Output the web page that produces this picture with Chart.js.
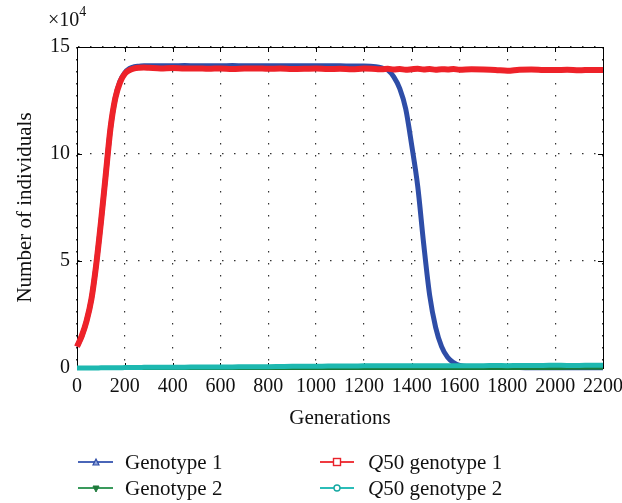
<!DOCTYPE html>
<html>
<head>
<meta charset="utf-8">
<script src="https://cdn.jsdelivr.net/npm/chart.js@4"></script>
<style>
  body { margin: 0; background: #fff; }
  #wrap { position: relative; width: 622px; height: 503px; font-family: "Liberation Serif", "DejaVu Serif", serif; color: #111; }
  #scale { position: absolute; left: 48px; top: 6px; font-size: 20px; }
  #scale sup { font-size: 14px; position: relative; top: -2px; }
  .leg { position: absolute; font-size: 21px; line-height: 24px; white-space: nowrap; }
  .leg svg { position: absolute; left: 0; top: 4px; }
  .leg span { position: absolute; top: 0; }
</style>
</head>
<body>
<div id="wrap">
  <canvas id="myChart" width="622" height="503"></canvas>
  <div id="scale">&times;10<sup>4</sup></div>
  <div class="leg" style="left:78px;top:450px">
    <svg width="36" height="16"><line x1="0" y1="8" x2="35" y2="8" stroke="#4a66b8" stroke-width="2"/><polygon points="15,11 21,11 18,5" fill="#8fa3d9" stroke="#2e4da7" stroke-width="1.2"/></svg>
    <span style="left:47px">Genotype 1</span>
  </div>
  <div class="leg" style="left:78px;top:476px">
    <svg width="36" height="16"><line x1="0" y1="8" x2="35" y2="8" stroke="#3a9a5c" stroke-width="2"/><polygon points="15,6 21,6 18,12" fill="#1f7a3c" stroke="#1f7a3c" stroke-width="1"/></svg>
    <span style="left:47px">Genotype 2</span>
  </div>
  <div class="leg" style="left:320px;top:450px">
    <svg width="36" height="16"><line x1="0" y1="8" x2="34" y2="8" stroke="#ef3a40" stroke-width="2"/><rect x="13.5" y="4.5" width="7" height="7" fill="#fff" stroke="#e8222a" stroke-width="1.4"/></svg>
    <span style="left:48px"><i>Q</i>50 genotype 1</span>
  </div>
  <div class="leg" style="left:320px;top:476px">
    <svg width="36" height="16"><line x1="0" y1="8" x2="34" y2="8" stroke="#2bbdb8" stroke-width="2"/><circle cx="17" cy="8" r="3" fill="#fff" stroke="#17a8a2" stroke-width="1.4"/></svg>
    <span style="left:48px"><i>Q</i>50 genotype 2</span>
  </div>
</div>
<script>
const xTicks = [0, 200, 400, 600, 800, 1000, 1200, 1400, 1600, 1800, 2000, 2200];
const yTicks = [0, 5, 10, 15];

const generations = [
  0, 20, 40, 60, 80, 100, 120, 140, 160, 180, 200, 220, 240, 260, 280, 300,
  350, 400, 450, 500, 550, 600, 650, 700, 750, 800, 850, 900, 950, 1000, 1050, 1100, 1150, 1200, 1250,
  1275, 1300, 1325, 1350, 1375, 1400, 1425, 1450, 1475, 1500, 1525, 1550, 1575, 1600,
  1650, 1700, 1750, 1800, 1850, 1900, 1950, 2000, 2050, 2100, 2150, 2200
];

// values in units of 10^4 individuals
const genotype1 = [
  1.0, 1.5, 2.2, 3.2, 4.8, 6.8, 9.0, 11.2, 12.6, 13.4, 13.8, 14.0, 14.08, 14.1, 14.12, 14.12,
  14.12, 14.12, 14.13, 14.12, 14.12, 14.12, 14.13, 14.12, 14.12, 14.12, 14.12, 14.12, 14.12, 14.12, 14.12, 14.12, 14.11, 14.11, 14.08,
  14.02, 13.92, 13.6, 13.05, 12.1, 10.4, 8.5, 5.8, 3.4, 1.9, 1.0, 0.5, 0.25, 0.12,
  0.05, 0.03, 0.02, 0.02, 0.02, 0.01, 0.01, 0.01, 0.01, 0.01, 0.01, 0.01
];

const genotype2 = [
  0, 0, 0, 0, 0, 0, 0, 0, 0, 0, 0, 0, 0, 0, 0, 0,
  0, 0, 0, 0, 0, 0, 0, 0, 0, 0, 0, 0, 0, 0, 0, 0, 0, 0, 0,
  0, 0, 0, 0, 0, 0, 0, 0, 0, 0, 0, 0, 0, 0,
  0, 0, 0, 0, 0, 0, 0, 0, 0.01, 0.01, 0.01, 0.01
];

const q50Genotype1 = [
  1.0, 1.5, 2.2, 3.2, 4.8, 6.8, 9.0, 11.2, 12.6, 13.35, 13.75, 13.92, 14.0, 14.03, 14.04, 14.03,
  14.0, 14.02, 13.99, 14.0, 13.98, 14.0, 13.97, 13.99, 14.0, 13.98, 13.99, 13.97, 13.98, 14.0, 13.97, 13.98, 13.96, 13.99, 13.97,
  13.96, 13.98, 13.95, 13.97, 13.94, 13.96, 13.98, 13.95, 13.97, 13.94, 13.96, 13.95, 13.97, 13.94,
  13.96, 13.95, 13.93, 13.89, 13.94, 13.95, 13.93, 13.92, 13.94, 13.91, 13.93, 13.92
];

const q50Genotype2 = [
  0, 0, 0, 0, 0, 0.01, 0.01, 0.01, 0.01, 0.01, 0.02, 0.02, 0.02, 0.02, 0.03, 0.03,
  0.04, 0.04, 0.04, 0.05, 0.05, 0.05, 0.05, 0.06, 0.06, 0.06, 0.07, 0.08, 0.08, 0.08, 0.09, 0.09, 0.09, 0.1, 0.1,
  0.1, 0.1, 0.1, 0.1, 0.11, 0.1, 0.1, 0.11, 0.11, 0.1, 0.11, 0.11, 0.11, 0.11,
  0.11, 0.11, 0.12, 0.11, 0.12, 0.12, 0.12, 0.13, 0.12, 0.12, 0.13, 0.13
];

const pts = vals => generations.map((g, i) => ({ x: g, y: vals[i] }));

const frame = {
  id: 'frame',
  beforeDatasetsDraw(chart) {
    const { ctx, chartArea: a, scales: { x, y } } = chart;
    ctx.save();
    ctx.strokeStyle = '#000';
    ctx.lineWidth = 1;
    ctx.strokeRect(Math.round(a.left) + 0.5, Math.round(a.top) + 0.5, Math.round(a.width), Math.round(a.height));
    ctx.beginPath();
    xTicks.forEach(v => {
      const px = Math.round(x.getPixelForValue(v)) + 0.5;
      ctx.moveTo(px, a.top); ctx.lineTo(px, a.top + 5);
      ctx.moveTo(px, a.bottom); ctx.lineTo(px, a.bottom - 5);
    });
    yTicks.forEach(v => {
      const py = Math.round(y.getPixelForValue(v)) + 0.5;
      ctx.moveTo(a.left, py); ctx.lineTo(a.left + 5, py);
      ctx.moveTo(a.right, py); ctx.lineTo(a.right - 5, py);
    });
    ctx.stroke();
    ctx.restore();
  }
};

const font = { family: '"Liberation Serif", "DejaVu Serif", serif', size: 20 };
const titleFont = { family: '"Liberation Serif", "DejaVu Serif", serif', size: 21 };

new Chart(document.getElementById('myChart'), {
  type: 'line',
  data: {
    datasets: [
      { label: 'Genotype 1', data: pts(genotype1), borderColor: '#2e4da7', borderWidth: 5, order: 3 },
      { label: 'Genotype 2', data: pts(genotype2), borderColor: '#1a7a3a', borderWidth: 4, order: 2 },
      { label: 'Q50 genotype 1', data: pts(q50Genotype1), borderColor: '#ee2229', borderWidth: 6, order: 0 },
      { label: 'Q50 genotype 2', data: pts(q50Genotype2), borderColor: '#1db8b0', borderWidth: 5, order: 1 }
    ]
  },
  options: {
    responsive: false,
    animation: false,
    datasets: { line: { pointRadius: 0, cubicInterpolationMode: 'monotone', clip: false, fill: false } },
    layout: { padding: { top: 47, right: 19, bottom: 0, left: 0 } },
    plugins: { legend: { display: false }, tooltip: { enabled: false } },
    scales: {
      x: {
        type: 'linear', min: 0, max: 2200,
        afterBuildTicks: s => { s.ticks = xTicks.map(v => ({ value: v })); },
        afterFit: s => { s.height = 135; s.paddingLeft = 0; s.paddingRight = 0; },
        ticks: { color: '#111', font, padding: 7, maxRotation: 0, autoSkip: false, callback: v => String(v) },
        grid: { color: '#333', lineWidth: 1.2, drawTicks: false },
        border: { color: '#000', dash: [1.5, 10.5] },
        title: { display: true, text: 'Generations', color: '#111', font: titleFont, padding: { bottom: 72 } }
      },
      y: {
        min: 0, max: 15,
        afterBuildTicks: s => { s.ticks = yTicks.map(v => ({ value: v })); },
        afterFit: s => { s.width = 77; s.paddingTop = 0; s.paddingBottom = 0; },
        ticks: { color: '#111', font, padding: 7, callback: v => String(v) },
        grid: { color: '#333', lineWidth: 1.2, drawTicks: false },
        border: { color: '#000', dash: [1.5, 10.5] },
        title: { display: true, text: 'Number of individuals', color: '#111', font: titleFont, padding: { top: 13 } }
      }
    }
  },
  plugins: [frame]
});
</script>
</body>
</html>
